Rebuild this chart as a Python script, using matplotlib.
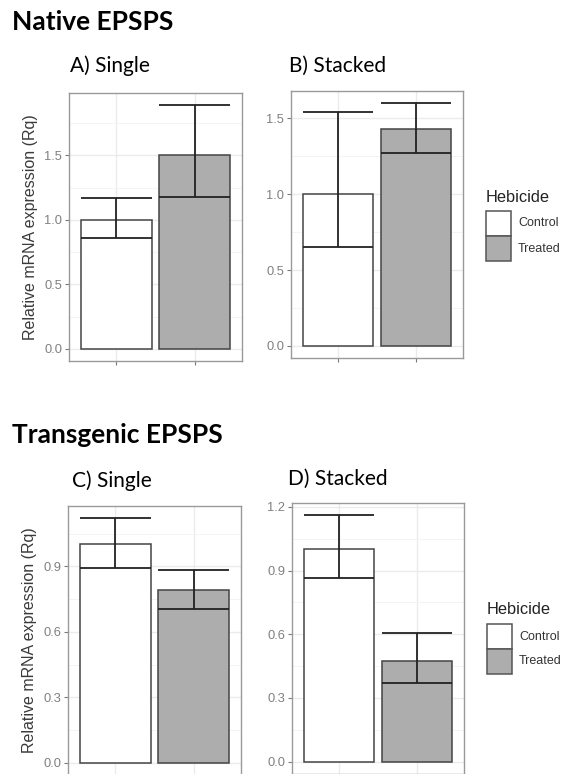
import numpy as np
import matplotlib.pyplot as plt
from matplotlib.patches import Rectangle
from matplotlib.ticker import MultipleLocator

# Relative mRNA expression (Rq): bar height, lower and upper error limits
groups = ["Control", "Treated"]

nat_single_mean = [1.0, 1.5]
nat_single_low = [0.86, 1.18]
nat_single_high = [1.17, 1.89]

nat_stacked_mean = [1.0, 1.43]
nat_stacked_low = [0.65, 1.27]
nat_stacked_high = [1.54, 1.60]

tr_single_mean = [1.0, 0.79]
tr_single_low = [0.89, 0.706]
tr_single_high = [1.12, 0.883]

tr_stacked_mean = [1.0, 0.473]
tr_stacked_low = [0.865, 0.37]
tr_stacked_high = [1.16, 0.607]

fills = ["white", "#adadad"]
edge = "#444444"
W, H = 566, 774


def px_axes(fig, l, t, r, b):
    return fig.add_axes([l / W, 1 - b / H, (r - l) / W, (b - t) / H])


def panel(ax, mean, low, high, step, ylabel=False):
    x = np.arange(1, len(mean) + 1)
    ax.bar(x, mean, width=0.9, color=fills, edgecolor=edge, linewidth=1.1, zorder=3)
    ax.vlines(x, low, high, color="#222222", linewidth=1.3, zorder=4)
    ax.hlines(low, x - 0.45, x + 0.45, color="#222222", linewidth=1.3, zorder=4)
    ax.hlines(high, x - 0.45, x + 0.45, color="#222222", linewidth=1.3, zorder=4)
    top = max(high)
    ax.set_ylim(-0.05 * top, 1.05 * top)
    ax.set_xlim(0.4, 2.6)
    ax.set_xticks(x)
    ax.set_xticklabels(["", ""])
    ax.yaxis.set_major_locator(MultipleLocator(step))
    ax.yaxis.set_minor_locator(MultipleLocator(step / 2))
    ax.yaxis.set_major_formatter(plt.FormatStrFormatter("%.1f"))
    ax.grid(True, which="major", color="#ebebeb", linewidth=1.0, zorder=0)
    ax.grid(True, which="minor", axis="y", color="#f3f3f3", linewidth=0.6, zorder=0)
    ax.set_axisbelow(True)
    for s in ax.spines.values():
        s.set_color("#9a9a9a")
        s.set_linewidth(1.0)
    ax.tick_params(which="major", length=3, width=0.8, color="#7a7a7a",
                   labelcolor="#808080", labelsize=9.3, pad=2)
    ax.tick_params(which="minor", length=0)
    for lab in ax.get_yticklabels():
        lab.set_fontfamily("Liberation Sans")
    if ylabel:
        ax.set_ylabel("Relative mRNA expression (Rq)", fontsize=11.5,
                      color="#3a3a3a", family="Liberation Sans", labelpad=4)


def legend(fig, x, y):
    fig.text(x / W, 1 - y / H, "Hebicide", fontsize=11.8, color="#222222",
             family="Liberation Sans", va="center", ha="left")
    for i, g in enumerate(groups):
        top = y + 14 + i * 25
        fig.patches.append(Rectangle((x / W, 1 - (top + 25) / H), 25 / W, 25 / H,
                                     transform=fig.transFigure, facecolor=fills[i],
                                     edgecolor="#555555", linewidth=1.1))
        fig.text((x + 32) / W, 1 - (top + 12.5) / H, g, fontsize=9.0, color="#333333",
                 family="Liberation Sans", va="center", ha="left")


fig = plt.figure(figsize=(5.66, 7.74), dpi=100)

axA = px_axes(fig, 69, 93, 242, 361)
panel(axA, nat_single_mean, nat_single_low, nat_single_high, 0.5, ylabel=True)
axB = px_axes(fig, 291, 91, 463, 358)
panel(axB, nat_stacked_mean, nat_stacked_low, nat_stacked_high, 0.5)
axC = px_axes(fig, 68, 506, 241, 775)
panel(axC, tr_single_mean, tr_single_low, tr_single_high, 0.3, ylabel=True)
axD = px_axes(fig, 292, 503, 464, 774)
panel(axD, tr_stacked_mean, tr_stacked_low, tr_stacked_high, 0.3)

legend(fig, 486, 197)
legend(fig, 487, 610)

title_kw = dict(family=["Lato", "DejaVu Sans"], va="baseline", ha="left", color="black")
fig.text(12.5 / W, 1 - 30 / H, "Native EPSPS", fontsize=19, fontweight="bold", **title_kw)
fig.text(12.5 / W, 1 - 443 / H, "Transgenic EPSPS", fontsize=19, fontweight="bold", **title_kw)
fig.text(70.5 / W, 1 - 72.3 / H, "A) Single", fontsize=15, **title_kw)
fig.text(289 / W, 1 - 71.7 / H, "B) Stacked", fontsize=15, **title_kw)
fig.text(72 / W, 1 - 487.3 / H, "C) Single", fontsize=15, **title_kw)
fig.text(288.3 / W, 1 - 485 / H, "D) Stacked", fontsize=15, **title_kw)

fig.savefig("out.png", dpi=100)
